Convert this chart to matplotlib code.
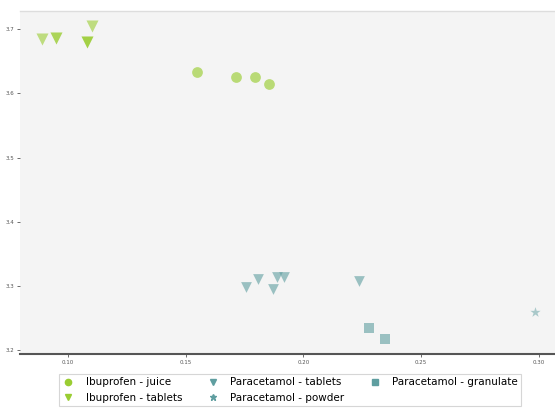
import matplotlib
matplotlib.use("Agg")
import matplotlib.pyplot as plt
from matplotlib.lines import Line2D

# Ibuprofen
ibu_juice_x = [0.1547, 0.1715, 0.1795, 0.1852]
ibu_juice_y = [3.6330, 3.6255, 3.6255, 3.6150]
ibu_juice_a = [0.65, 0.65, 0.65, 0.65]

ibu_tab_x = [0.0890, 0.0950, 0.1078, 0.1100]
ibu_tab_y = [3.6845, 3.6870, 3.6800, 3.7050]
ibu_tab_a = [0.6, 0.8, 0.9, 0.6]

# Paracetamol
par_tab_x = [0.1755, 0.1806, 0.1869, 0.1889, 0.1916, 0.2238]
par_tab_y = [3.2985, 3.3105, 3.2955, 3.3145, 3.3145, 3.3080]
par_tab_a = [0.6, 0.6, 0.6, 0.6, 0.6, 0.6]

par_pow_x = [0.2987]
par_pow_y = [3.2595]
par_pow_a = [0.5]

par_gran_x = [0.2281, 0.2347]
par_gran_y = [3.2350, 3.2175]
par_gran_a = [0.6, 0.6]

ibu_color = "#9acd32"
par_color = "#5f9ea0"

fig = plt.figure(figsize=(5.55, 4.09), dpi=100)
ax = fig.add_axes([20/555, 1 - 354/409, 535/555, 343/409])
ax.set_facecolor("#f4f4f4")

def draw(xs, ys, alphas, color, marker, size):
    for x, y, a in zip(xs, ys, alphas):
        ax.scatter(x, y, s=size, marker=marker, color=color, alpha=a,
                   linewidths=0, zorder=3)

draw(ibu_juice_x, ibu_juice_y, ibu_juice_a, ibu_color, "o", 60)
draw(ibu_tab_x, ibu_tab_y, ibu_tab_a, ibu_color, "v", 75)
draw(par_tab_x, par_tab_y, par_tab_a, par_color, "v", 60)
draw(par_pow_x, par_pow_y, par_pow_a, par_color, "*", 60)
draw(par_gran_x, par_gran_y, par_gran_a, par_color, "s", 60)

ax.set_xlim(0.0795, 0.307)
ax.set_ylim(3.194, 3.7285)
ax.set_xticks([0.10, 0.15, 0.20, 0.25, 0.30])
ax.set_xticklabels(["0.10", "0.15", "0.20", "0.25", "0.30"])
ax.set_yticks([3.2, 3.3, 3.4, 3.5, 3.6, 3.7])
ax.tick_params(labelsize=4, labelcolor="#555555", length=2, width=0.6,
               color="#555555", pad=2)

for side in ["left", "right"]:
    ax.spines[side].set_visible(False)
ax.spines["top"].set_color("#dddddd")
ax.spines["top"].set_linewidth(1)
ax.spines["bottom"].set_color("#555555")
ax.spines["bottom"].set_linewidth(1.5)

handles = [
    Line2D([], [], ls="", marker="o", color=ibu_color, markersize=4.5, label="Ibuprofen - juice"),
    Line2D([], [], ls="", marker="v", color=ibu_color, markersize=5, label="Ibuprofen - tablets"),
    Line2D([], [], ls="", marker="v", color=par_color, markersize=5, label="Paracetamol - tablets"),
    Line2D([], [], ls="", marker="*", color=par_color, markersize=5, label="Paracetamol - powder"),
    Line2D([], [], ls="", marker="s", color=par_color, markersize=4.5, label="Paracetamol - granulate"),
]
leg = fig.legend(handles=handles, loc="upper center", bbox_to_anchor=(290/555, 1 - 369/409),
                 ncol=3, fontsize=7.5, frameon=True, fancybox=False,
                 handlelength=1.2, handletextpad=1.1, columnspacing=2.3,
                 labelspacing=0.5, borderpad=0.3)
leg.get_frame().set_edgecolor("#cccccc")
leg.get_frame().set_linewidth(0.8)

fig.savefig("out.png", dpi=100)
